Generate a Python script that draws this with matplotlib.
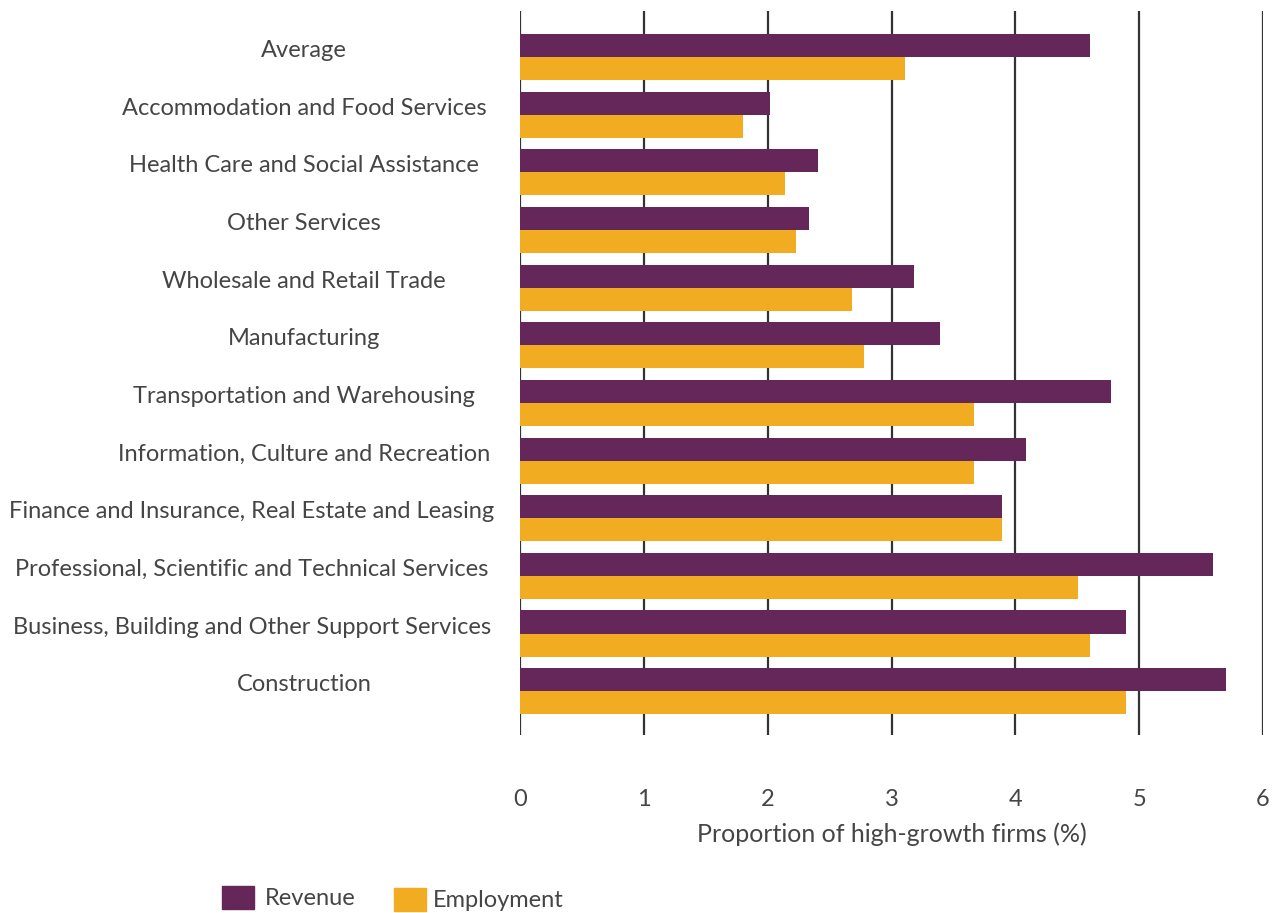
import matplotlib
matplotlib.use("Agg")
import matplotlib.pyplot as plt
import matplotlib.patches as mpatches
import numpy as np

plt.rcParams['font.family'] = ['Lato', 'DejaVu Sans']

TEXT_COLOR = '#454545'
REVENUE_COLOR = '#65275A'
EMPLOYMENT_COLOR = '#F2AC22'

categories = [
    'Average',
    'Accommodation and Food Services',
    'Health Care and Social Assistance',
    'Other Services',
    'Wholesale and Retail Trade',
    'Manufacturing',
    'Transportation and Warehousing',
    'Information, Culture and Recreation',
    'Finance and Insurance, Real Estate and Leasing',
    'Professional, Scientific and Technical Services',
    'Business, Building and Other Support Services',
    'Construction',
]
revenue = [4.60, 2.02, 2.41, 2.33, 3.18, 3.39, 4.77, 4.09, 3.89, 5.60, 4.89, 5.70]
employment = [3.11, 1.80, 2.14, 2.23, 2.68, 2.78, 3.67, 3.67, 3.89, 4.51, 4.60, 4.89]
x_ticks = [0, 1, 2, 3, 4, 5, 6]


def main():
    fig = plt.figure(figsize=(12.72, 9.13), dpi=100)
    W, H = 1272, 913
    ax = fig.add_axes([520 / W, 1 - 735 / H, (1263 - 520) / W, (735 - 11) / H])

    y = np.arange(len(categories))
    bar_h = 0.4
    ax.barh(y - bar_h / 2, revenue, height=bar_h, color=REVENUE_COLOR, zorder=2)
    ax.barh(y + bar_h / 2, employment, height=bar_h, color=EMPLOYMENT_COLOR, zorder=2)

    ax.set_xlim(0, 6)
    ax.set_ylim(len(categories) - 1 + 0.76, -0.8)

    for t in x_ticks:
        ax.axvline(t, color='#333333', linewidth=1.6, zorder=1)

    for s in ax.spines.values():
        s.set_visible(False)

    ax.set_xticks(x_ticks)
    ax.set_xticklabels([str(t) for t in x_ticks])
    ax.tick_params(axis='x', length=0, pad=39, labelsize=17, labelcolor=TEXT_COLOR)
    ax.set_yticks([])
    ax.set_xlabel('Proportion of high-growth firms (%)', fontsize=18,
                  color=TEXT_COLOR, labelpad=9)

    # category labels, centred in the left column; long ones shifted left
    renderer = fig.canvas.get_renderer()
    for i, name in enumerate(categories):
        txt = ax.text(0, i, name, fontsize=17, color=TEXT_COLOR, ha='center',
                      va='baseline', transform=ax.transData)
        w = txt.get_window_extent(renderer).width
        cx = 304 if 304 + w / 2 < 500 else 252
        xd = ax.transData.inverted().transform((cx, 0))[0]
        txt.set_x(xd)

    # legend
    fig.patches.append(mpatches.Rectangle((222 / W, 1 - 909 / H), 32 / W, 23 / H,
                                          color=REVENUE_COLOR, transform=fig.transFigure))
    fig.text(265 / W, 1 - 898 / H, 'Revenue', fontsize=17, color=TEXT_COLOR, va='center')
    fig.patches.append(mpatches.Rectangle((394 / W, 1 - 911 / H), 32 / W, 23 / H,
                                          color=EMPLOYMENT_COLOR, transform=fig.transFigure))
    fig.text(433 / W, 1 - 900 / H, 'Employment', fontsize=17, color=TEXT_COLOR, va='center')

    fig.savefig('out.png', dpi=100)


if __name__ == "__main__":
    main()
